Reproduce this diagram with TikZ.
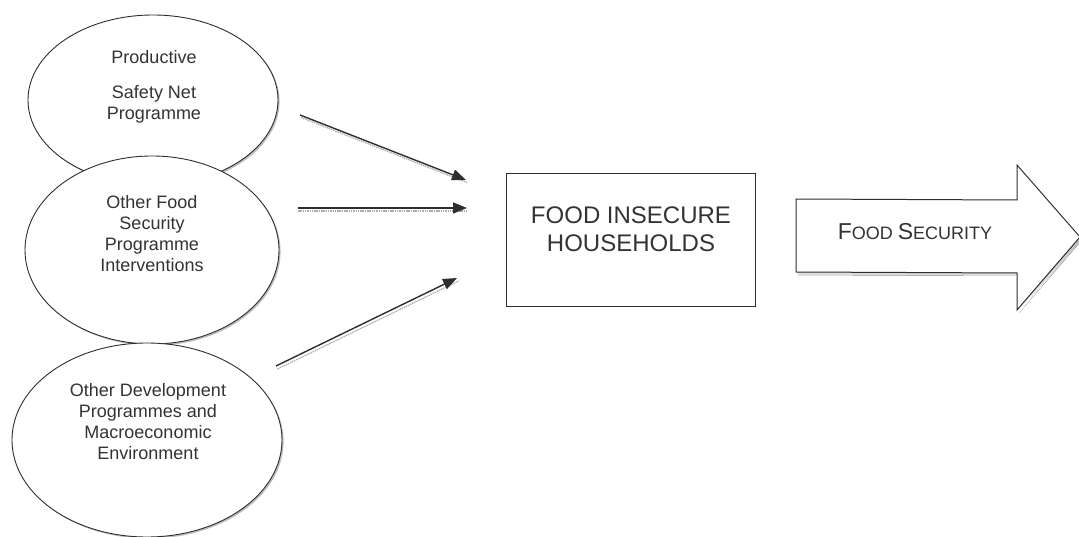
\documentclass[tikz,border=0pt]{standalone}
\usepackage{fontspec}
\setmainfont{Liberation Sans}
\usetikzlibrary{shapes.geometric,arrows.meta,shadows}
\definecolor{ink}{gray}{0.18}
\definecolor{txt}{gray}{0.2}
\definecolor{shade}{gray}{0.68}
\begin{document}
\begin{tikzpicture}[x=1pt,y=-1pt,
  oval/.style={ellipse,draw=ink,line width=0.9pt,fill=white,inner sep=0pt,
    drop shadow={shadow xshift=1.6pt,shadow yshift=-1.6pt,fill=shade,opacity=0.8}},
  ovaltext/.style={align=center,text=txt,font=\fontsize{18}{21}\selectfont,inner sep=0pt},
  feed/.style={draw=ink,line width=1.4pt,-{Triangle[length=14pt,width=11pt]}},
  feedshadow/.style={draw=shade,line width=1.2pt,dash pattern=on 1.5pt off 0.8pt},
  boxstyle/.style={draw=ink,line width=1.1pt,minimum width=249pt,minimum height=133pt,inner sep=0pt}]
\useasboundingbox (0,0) rectangle (1079,537);
% ellipses
\node[oval,minimum width=250pt,minimum height=170pt] (e1) at (153,100) {};
\node[oval,minimum width=254pt,minimum height=188pt] (e2) at (152,250) {};
\node[oval,minimum width=270pt,minimum height=194pt] (e3) at (147,440) {};
% ellipse texts (base anchor = baseline of last line)
\node[ovaltext,anchor=base] (t1a) at (154,64) {Productive};
\node[ovaltext,anchor=base] (t1b) at (154,120) {Safety Net\\Programme};
\node[ovaltext,anchor=base] (t2) at (152,272) {Other Food\\Security\\Programme\\Interventions};
\node[ovaltext,anchor=base] (t3) at (148,459) {Other Development\\Programmes and\\Macroeconomic\\Environment};
% box
\node[boxstyle,anchor=north west] (box) at (506,173) {};
\node[anchor=base,align=center,text=txt,font=\fontsize{24}{28}\selectfont,inner sep=0pt] (boxtxt) at (631,252) {FOOD INSECURE\\HOUSEHOLDS};
% arrow endpoints
\coordinate (a1s) at (300,115); \coordinate (a1e) at (466,180);
\coordinate (a2s) at (298,208); \coordinate (a2e) at (467,208);
\coordinate (a3s) at (276,366); \coordinate (a3e) at (457,278);
% arrow shadows
\draw[feedshadow] ([shift={(1pt,-2.5pt)}]a1s) -- ([shift={(1pt,-2.5pt)}]a1e);
\draw[feedshadow] ([shift={(0pt,-3pt)}]a2s) -- ([shift={(0pt,-3pt)}]a2e);
\draw[feedshadow] ([shift={(1.5pt,-3pt)}]a3s) -- ([shift={(1.5pt,-3pt)}]a3e);
% arrows
\draw[feed] (a1s) -- (a1e);
\draw[feed] (a2s) -- (a2e);
\draw[feed] (a3s) -- (a3e);
% big arrow
\fill[shade] (798,202) -- (1019,203) -- (1019,168) -- (1082,240) -- (1019,313) -- (1019,276) -- (798,275) -- cycle;
\draw[ink,line width=1pt,fill=white] (796,199) -- (1017,200) -- (1017,165) -- (1080,237) -- (1017,310) -- (1017,273) -- (796,272) -- cycle;
\node[anchor=base,text=txt,inner sep=0pt] (fs) at (915,240) {\fontsize{23}{25}\selectfont F\fontsize{18}{20}\selectfont OOD \fontsize{23}{25}\selectfont S\fontsize{18}{20}\selectfont ECURITY};
\end{tikzpicture}
\end{document}
